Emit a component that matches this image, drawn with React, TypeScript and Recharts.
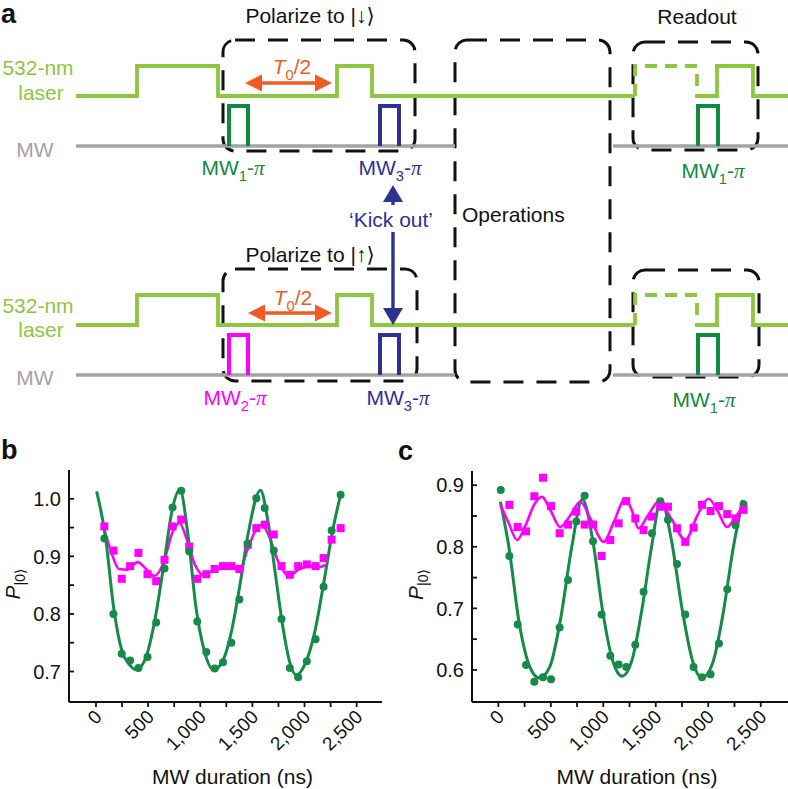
import React from 'react';
import {
  ComposedChart,
  Line,
  Scatter,
  XAxis,
  YAxis,
  ReferenceArea,
  ReferenceDot,
  ReferenceLine,
  Label,
} from 'recharts';

const FONT = '"Liberation Sans", Arial, Helvetica, "DejaVu Sans", sans-serif';
const SERIF = '"Liberation Serif", "DejaVu Serif", serif';

const LASER = '#8dc63f';
const MW_GRAY = '#a3a3a3';
const PULSE_GREEN = '#0f8a3f';
const NAVY = '#2e3192';
const MAGENTA = '#ff00ff';
const ORANGE = '#f15a24';
const PLOT_GREEN = '#168a48';
const INK = '#111';

// ---------- panel a: pulse sequence (t = schematic time, y = schematic level) ----------
const laserLow = [96, 325];
const laserHigh = [66, 295];
const mwBase = [146, 375];
const mwTop = [106, 335];
const traceStart = 76;
const traceEnd = 788;
const prepLaserEdges = [137, 218, 337, 372];
const readoutDashEdges = [635, 697];
const readoutLaserEdges = [717, 753];
const mwGap = [455, 613];
const mwPulses = [
  [
    { t0: 229, t1: 248, color: PULSE_GREEN },
    { t0: 380, t1: 399, color: NAVY },
    { t0: 698, t1: 718, color: PULSE_GREEN },
  ],
  [
    { t0: 229, t1: 248, color: MAGENTA },
    { t0: 380, t1: 399, color: NAVY },
    { t0: 698, t1: 718, color: PULSE_GREEN },
  ],
];
const boxes = [
  { x1: 223, x2: 415, y1: 40, y2: 151 },
  { x1: 223, x2: 417, y1: 269, y2: 381 },
  { x1: 455, x2: 610, y1: 40, y2: 382 },
  { x1: 633, x2: 758, y1: 42, y2: 150 },
  { x1: 633, x2: 759, y1: 270, y2: 377 },
];
const halfPeriodArrows = [
  { from: 245, to: 332, y: 83 },
  { from: 248, to: 332, y: 313 },
];
const kickArrows = [
  { t: 393, from: 205, to: 185 },
  { t: 393, from: 232, to: 325 },
];

type Part = { s: string; sub?: boolean; it?: boolean; serif?: boolean };
const mwLabel = (n: string): Part[] => [
  { s: 'MW' },
  { s: n, sub: true },
  { s: '-' },
  { s: 'π', serif: true, it: true },
];
const halfT: Part[] = [{ s: 'T', it: true }, { s: '0', sub: true }, { s: '/2' }];

const diagramLabels = [
  { t: 38, y: 75, color: LASER, anchor: 'middle', parts: [{ s: '532-nm' }] },
  { t: 41, y: 100, color: LASER, anchor: 'middle', parts: [{ s: 'laser' }] },
  { t: 35, y: 157, color: MW_GRAY, anchor: 'middle', parts: [{ s: 'MW' }] },
  { t: 310, y: 23, color: INK, anchor: 'middle', parts: [{ s: 'Polarize to |↓⟩' }] },
  { t: 697, y: 24, color: INK, anchor: 'middle', parts: [{ s: 'Readout' }] },
  { t: 462, y: 222, color: INK, anchor: 'start', parts: [{ s: 'Operations' }] },
  { t: 292, y: 74, color: ORANGE, anchor: 'middle', parts: halfT },
  { t: 233, y: 175, color: PULSE_GREEN, anchor: 'middle', parts: mwLabel('1') },
  { t: 390, y: 175, color: NAVY, anchor: 'middle', parts: mwLabel('3') },
  { t: 713, y: 178, color: PULSE_GREEN, anchor: 'middle', parts: mwLabel('1') },
  { t: 391, y: 227, color: NAVY, anchor: 'middle', parts: [{ s: '‘Kick out’' }] },
  { t: 38, y: 313, color: LASER, anchor: 'middle', parts: [{ s: '532-nm' }] },
  { t: 41, y: 337, color: LASER, anchor: 'middle', parts: [{ s: 'laser' }] },
  { t: 35, y: 385, color: MW_GRAY, anchor: 'middle', parts: [{ s: 'MW' }] },
  { t: 310, y: 262, color: INK, anchor: 'middle', parts: [{ s: 'Polarize to |↑⟩' }] },
  { t: 293, y: 305, color: ORANGE, anchor: 'middle', parts: halfT },
  { t: 235, y: 405, color: MAGENTA, anchor: 'middle', parts: mwLabel('2') },
  { t: 398, y: 405, color: NAVY, anchor: 'middle', parts: mwLabel('3') },
  { t: 704, y: 407, color: PULSE_GREEN, anchor: 'middle', parts: mwLabel('1') },
];

// ---------- panel b ----------
const durB = [80, 167, 247, 327, 407, 494, 577, 657, 734, 817, 894, 971, 1058, 1138, 1218, 1298, 1375, 1455, 1538, 1618, 1705, 1779, 1859, 1939, 2022, 2106, 2183, 2260, 2346];
const greenB = [0.931, 0.8, 0.731, 0.719, 0.706, 0.725, 0.785, 0.879, 0.985, 1.014, 0.909, 0.787, 0.734, 0.705, 0.716, 0.75, 0.825, 0.922, 1.001, 0.984, 0.91, 0.791, 0.706, 0.69, 0.718, 0.756, 0.847, 0.945, 1.007];
const pinkB = [0.952, 0.91, 0.861, 0.883, 0.906, 0.869, 0.857, 0.894, 0.952, 0.964, 0.917, 0.861, 0.869, 0.878, 0.883, 0.883, 0.878, 0.92, 0.949, 0.955, 0.938, 0.883, 0.868, 0.883, 0.886, 0.883, 0.897, 0.929, 0.949];
const greenFitBx = [6, 90, 170, 250, 320, 390, 480, 560, 650, 730, 805, 880, 960, 1040, 1128, 1220, 1300, 1380, 1460, 1577, 1650, 1720, 1790, 1860, 1920, 2010, 2100, 2190, 2270, 2346];
const greenFitBy = [1.013, 0.935, 0.81, 0.735, 0.712, 0.703, 0.725, 0.785, 0.885, 0.98, 1.016, 0.94, 0.81, 0.735, 0.703, 0.72, 0.77, 0.85, 0.94, 1.015, 0.96, 0.87, 0.78, 0.715, 0.694, 0.715, 0.77, 0.86, 0.945, 1.007];
const pinkFitBx = [80, 150, 220, 300, 400, 480, 560, 650, 730, 800, 870, 950, 1030, 1120, 1250, 1380, 1450, 1530, 1590, 1660, 1750, 1850, 1950, 2050, 2150, 2200];
const pinkFitBy = [0.945, 0.905, 0.878, 0.877, 0.89, 0.878, 0.866, 0.89, 0.94, 0.958, 0.93, 0.885, 0.868, 0.875, 0.883, 0.878, 0.91, 0.945, 0.955, 0.935, 0.89, 0.866, 0.878, 0.883, 0.882, 0.885];

// ---------- panel c ----------
const durC = [23, 105, 184, 264, 343, 426, 502, 584, 664, 743, 822, 902, 984, 1067, 1146, 1219, 1305, 1384, 1464, 1543, 1616, 1702, 1781, 1860, 1940, 2022, 2102, 2181, 2260, 2336];
const greenC = [0.892, 0.785, 0.674, 0.608, 0.581, 0.588, 0.585, 0.669, 0.746, 0.841, 0.883, 0.809, 0.69, 0.623, 0.609, 0.605, 0.641, 0.727, 0.822, 0.874, 0.844, 0.772, 0.69, 0.605, 0.588, 0.593, 0.643, 0.731, 0.835, 0.869];
const pinkC = [null, 0.868, 0.832, 0.825, 0.882, 0.912, 0.866, 0.822, 0.836, 0.857, 0.836, 0.836, 0.785, 0.811, 0.838, 0.874, 0.846, 0.827, 0.849, 0.865, 0.865, 0.83, 0.808, 0.831, 0.868, 0.858, 0.866, 0.853, 0.846, 0.86];
const greenFitCx = [20, 100, 200, 300, 390, 490, 590, 700, 800, 900, 990, 1090, 1180, 1280, 1370, 1460, 1550, 1650, 1750, 1850, 1940, 2040, 2140, 2240, 2330];
const greenFitCy = [0.873, 0.8, 0.675, 0.605, 0.587, 0.605, 0.68, 0.8, 0.877, 0.81, 0.7, 0.615, 0.59, 0.62, 0.7, 0.8, 0.877, 0.81, 0.7, 0.615, 0.587, 0.61, 0.69, 0.8, 0.876];
const pinkFitCx = [20, 100, 178, 260, 340, 416, 500, 590, 690, 781, 880, 1003, 1100, 1209, 1270, 1336, 1430, 1527, 1650, 1781, 1900, 2003, 2090, 2178, 2260, 2336];
const pinkFitCy = [0.868, 0.838, 0.811, 0.835, 0.868, 0.881, 0.858, 0.832, 0.852, 0.873, 0.845, 0.808, 0.84, 0.878, 0.86, 0.83, 0.852, 0.873, 0.845, 0.811, 0.852, 0.878, 0.858, 0.832, 0.848, 0.868];

const xTicks = [0, 250, 500, 750, 1000, 1250, 1500, 1750, 2000, 2250, 2500];
const yTicksB = [0.7, 0.75, 0.8, 0.85, 0.9, 0.95, 1.0];
const yTicksC = [0.6, 0.65, 0.7, 0.75, 0.8, 0.85, 0.9];

const zip = (xs: number[], ys: (number | null)[]) =>
  xs.map((x, i) => ({ x, y: ys[i] })).filter((p) => p.y !== null);

const step = (from: number, to: number, edges: number[], low: number, high: number) => {
  const pts = [{ t: from, y: low }];
  let level = low;
  edges.forEach((e) => {
    pts.push({ t: e, y: level });
    level = level === low ? high : low;
    pts.push({ t: e, y: level });
  });
  pts.push({ t: to, y: level });
  return pts;
};

const renderParts = (parts: Part[], size: number) => {
  let shifted = false;
  return parts.map((pt, i) => {
    let dy: number | undefined;
    if (pt.sub && !shifted) {
      dy = size * 0.28;
      shifted = true;
    } else if (!pt.sub && shifted) {
      dy = -size * 0.28;
      shifted = false;
    }
    return (
      <tspan
        key={i}
        dy={dy}
        fontSize={pt.sub ? size * 0.7 : size}
        fontStyle={pt.it ? 'italic' : undefined}
        fontFamily={pt.serif ? SERIF : undefined}
      >
        {pt.s}
      </tspan>
    );
  });
};

const dashedBox = (p: any) => (
  <rect
    x={p.x}
    y={p.y}
    width={p.width}
    height={p.height}
    rx={12}
    ry={12}
    fill="none"
    stroke={INK}
    strokeWidth={3}
    strokeDasharray="20 13"
  />
);

const arrowShape = (color: string, both: boolean, len: number, half: number) => (p: any) => {
  const { x1, y1, x2, y2 } = p;
  const d = Math.hypot(x2 - x1, y2 - y1) || 1;
  const ux = (x2 - x1) / d;
  const uy = (y2 - y1) / d;
  const headAt = (tx: number, ty: number, dx: number, dy: number) => {
    const bx = tx - dx * len;
    const by = ty - dy * len;
    return `${tx},${ty} ${bx - dy * half},${by + dx * half} ${bx + dy * half},${by - dx * half}`;
  };
  return (
    <g>
      <line
        x1={both ? x1 + ux * len * 0.8 : x1}
        y1={both ? y1 + uy * len * 0.8 : y1}
        x2={x2 - ux * len * 0.8}
        y2={y2 - uy * len * 0.8}
        stroke={color}
        strokeWidth={3.4}
      />
      <polygon points={headAt(x2, y2, ux, uy)} fill={color} />
      {both && <polygon points={headAt(x1, y1, -ux, -uy)} fill={color} />}
    </g>
  );
};

function SequenceDiagram() {
  const traces: { key: string; data: { t: number; y: number }[]; color: string; width: number; dash?: string }[] = [];
  [0, 1].forEach((r) => {
    traces.push({ key: `mwL${r}`, data: step(traceStart, mwGap[0], [], mwBase[r], mwTop[r]), color: MW_GRAY, width: 3.3 });
    traces.push({ key: `mwR${r}`, data: step(mwGap[1], traceEnd, [], mwBase[r], mwTop[r]), color: MW_GRAY, width: 3.3 });
    traces.push({ key: `laser${r}`, data: step(traceStart, readoutDashEdges[0], prepLaserEdges, laserLow[r], laserHigh[r]), color: LASER, width: 3.8 });
    traces.push({ key: `laserDash${r}`, data: step(readoutDashEdges[0], readoutDashEdges[1], readoutDashEdges, laserLow[r], laserHigh[r]), color: LASER, width: 3.8, dash: '12 8' });
    traces.push({ key: `laserRead${r}`, data: step(readoutDashEdges[1], traceEnd, readoutLaserEdges, laserLow[r], laserHigh[r]), color: LASER, width: 3.8 });
    mwPulses[r].forEach((p, i) => {
      traces.push({ key: `pulse${r}${i}`, data: step(p.t0, p.t1, [p.t0, p.t1], mwBase[r], mwTop[r]), color: p.color, width: 4 });
    });
  });

  return (
    <ComposedChart width={788} height={430} margin={{ top: 0, right: 0, bottom: 0, left: 0 }}>
      <XAxis type="number" dataKey="t" domain={[0, 788]} hide allowDataOverflow />
      <YAxis type="number" domain={[0, 430]} reversed hide allowDataOverflow />
      {traces.map((tr) => (
        <Line
          key={tr.key}
          data={tr.data}
          dataKey="y"
          type="linear"
          stroke={tr.color}
          strokeWidth={tr.width}
          strokeDasharray={tr.dash}
          dot={false}
          activeDot={false}
          isAnimationActive={false}
        />
      ))}
      {boxes.map((b, i) => (
        <ReferenceArea key={`box${i}`} x1={b.x1} x2={b.x2} y1={b.y1} y2={b.y2} ifOverflow="visible" shape={dashedBox} />
      ))}
      {halfPeriodArrows.map((a, i) => (
        <ReferenceLine
          key={`half${i}`}
          segment={[{ x: a.from, y: a.y }, { x: a.to, y: a.y }]}
          ifOverflow="visible"
          shape={arrowShape(ORANGE, true, 17, 8.5)}
        />
      ))}
      {kickArrows.map((a, i) => (
        <ReferenceLine
          key={`kick${i}`}
          segment={[{ x: a.t, y: a.from }, { x: a.t, y: a.to }]}
          ifOverflow="visible"
          shape={arrowShape(NAVY, false, 17, 10)}
        />
      ))}
      {diagramLabels.map((l, i) => (
        <ReferenceDot
          key={`lab${i}`}
          x={l.t}
          y={l.y}
          r={0}
          ifOverflow="visible"
          shape={(p: any) => (
            <text x={p.cx} y={p.cy} textAnchor={l.anchor as any} fill={l.color} fontFamily={FONT} fontSize={21}>
              {renderParts(l.parts as Part[], 21)}
            </text>
          )}
        />
      ))}
    </ComposedChart>
  );
}

const XTick = (props: any) => {
  const { x, y, payload } = props;
  const v = payload.value;
  const major = v % 500 === 0;
  const ax = x + 7;
  const ay = y + 16;
  return (
    <g>
      <line x1={x} y1={y} x2={x} y2={y + 5} stroke={INK} strokeWidth={1.8} />
      {major && (
        <text
          x={ax}
          y={ay}
          transform={`rotate(-45 ${ax} ${ay})`}
          textAnchor="end"
          fontSize={19}
          fill={INK}
          fontFamily={FONT}
        >
          {v.toLocaleString('en-US')}
        </text>
      )}
    </g>
  );
};

const YTick = (props: any) => {
  const { x, y, payload } = props;
  const v = payload.value;
  const major = Math.round(v * 100) % 10 === 0;
  return (
    <g>
      <line x1={x} y1={y} x2={x + 5} y2={y} stroke={INK} strokeWidth={1.8} />
      {major && (
        <text x={x - 8} y={y} dy="0.36em" textAnchor="end" fontSize={20} fill={INK} fontFamily={FONT}>
          {v.toFixed(1)}
        </text>
      )}
    </g>
  );
};

const circleShape = (p: any) => <circle cx={p.cx} cy={p.cy} r={4} fill={PLOT_GREEN} />;
const squareShape = (p: any) => <rect x={p.cx - 4} y={p.cy - 4} width={8} height={8} fill={MAGENTA} />;

interface PanelProps {
  width: number;
  margin: { top: number; right: number; bottom: number; left: number };
  yAxisWidth: number;
  xDomain: [number, number];
  yDomain: [number, number];
  yTicks: number[];
  green: { x: number; y: number | null }[];
  greenFit: { x: number; y: number | null }[];
  pink: { x: number; y: number | null }[];
  pinkFit: { x: number; y: number | null }[];
  pinkOnTop: boolean;
  yLabelDx: number;
  xLabelDx: number;
}

function RabiPanel(props: PanelProps) {
  const greenLayer = [
    <Line key="gf" data={props.greenFit} dataKey="y" type="monotone" stroke={PLOT_GREEN} strokeWidth={3} dot={false} activeDot={false} isAnimationActive={false} />,
    <Scatter key="gs" data={props.green} dataKey="y" shape={circleShape} isAnimationActive={false} />,
  ];
  const pinkLayer = [
    <Line key="pf" data={props.pinkFit} dataKey="y" type="monotone" stroke={MAGENTA} strokeWidth={2.6} dot={false} activeDot={false} isAnimationActive={false} />,
    <Scatter key="ps" data={props.pink} dataKey="y" shape={squareShape} isAnimationActive={false} />,
  ];
  return (
    <ComposedChart width={props.width} height={349} margin={props.margin}>
      <XAxis
        type="number"
        dataKey="x"
        domain={props.xDomain}
        allowDataOverflow
        ticks={xTicks}
        interval={0}
        tick={(p: any) => <XTick {...p} />}
        tickLine={false}
        tickSize={0}
        tickMargin={0}
        axisLine={{ stroke: INK, strokeWidth: 2 }}
        height={60}
        label={
          <Label
            content={(lp: any) => {
              const vb = lp.viewBox || {};
              return (
                <text x={vb.x + vb.width / 2 + props.xLabelDx} y={vb.y + 82} textAnchor="middle" fontSize={21} fill={INK} fontFamily={FONT}>
                  MW duration (ns)
                </text>
              );
            }}
          />
        }
      />
      <YAxis
        type="number"
        domain={props.yDomain}
        allowDataOverflow
        ticks={props.yTicks}
        interval={0}
        tick={(p: any) => <YTick {...p} />}
        tickLine={false}
        tickSize={0}
        tickMargin={0}
        axisLine={{ stroke: INK, strokeWidth: 2 }}
        width={props.yAxisWidth}
        label={
          <Label
            content={(lp: any) => {
              const vb = lp.viewBox || {};
              const cx = vb.x + props.yLabelDx;
              const cy = vb.y + vb.height / 2 - 2;
              return (
                <text x={cx} y={cy} transform={`rotate(-90 ${cx} ${cy})`} textAnchor="middle" fill={INK} fontFamily={FONT}>
                  <tspan fontSize={21} fontStyle="italic">P</tspan>
                  <tspan fontSize={14} dy={5}>|0⟩</tspan>
                </text>
              );
            }}
          />
        }
      />
      {props.pinkOnTop ? [...greenLayer, ...pinkLayer] : [...pinkLayer, ...greenLayer]}
    </ComposedChart>
  );
}

const letterStyle = (left: number, top: number): React.CSSProperties => ({
  position: 'absolute',
  left,
  top,
  fontFamily: FONT,
  fontWeight: 'bold',
  fontSize: 27,
  lineHeight: '20px',
  color: INK,
});

export default function App() {
  return (
    <div style={{ position: 'absolute', left: 0, top: 0, width: 788, height: 789, background: '#fff', overflow: 'hidden' }}>
      <div style={{ position: 'absolute', left: 0, top: 0 }}>
        <SequenceDiagram />
      </div>
      <div style={{ position: 'absolute', left: 0, top: 440 }}>
        <RabiPanel
          width={400}
          margin={{ top: 30, right: 18, bottom: 27, left: 9 }}
          yAxisWidth={60}
          xDomain={[-259, 2743]}
          yDomain={[0.647, 1.05]}
          yTicks={yTicksB}
          green={zip(durB, greenB)}
          greenFit={zip(greenFitBx, greenFitBy)}
          pink={zip(durB, pinkB)}
          pinkFit={zip(pinkFitBx, pinkFitBy)}
          pinkOnTop={false}
          yLabelDx={11}
          xLabelDx={7}
        />
      </div>
      <div style={{ position: 'absolute', left: 390, top: 440 }}>
        <RabiPanel
          width={398}
          margin={{ top: 31, right: 0, bottom: 27, left: 10 }}
          yAxisWidth={72}
          xDomain={[-251, 2760]}
          yDomain={[0.548, 0.923]}
          yTicks={yTicksC}
          green={zip(durC, greenC)}
          greenFit={zip(greenFitCx, greenFitCy)}
          pink={zip(durC, pinkC)}
          pinkFit={zip(pinkFitCx, pinkFitCy)}
          pinkOnTop={true}
          yLabelDx={23}
          xLabelDx={7}
        />
      </div>
      <div style={letterStyle(1, 4)}>a</div>
      <div style={letterStyle(1, 440)}>b</div>
      <div style={letterStyle(398, 441)}>c</div>
    </div>
  );
}
